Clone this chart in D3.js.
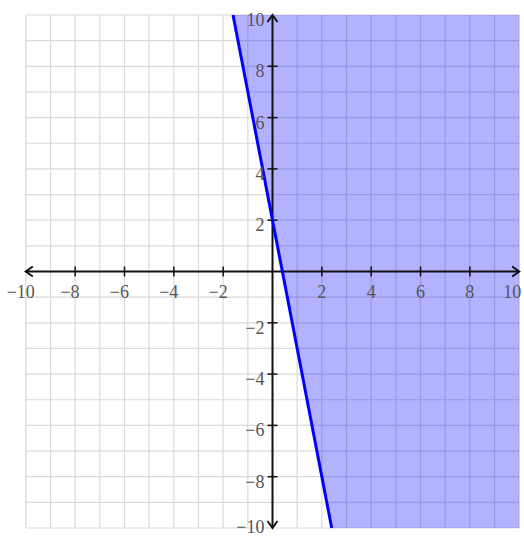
<!DOCTYPE html>
<html>
<head>
<meta charset="utf-8">
<title>inequality graph</title>
<script src="https://d3js.org/d3.v7.min.js"></script>
<style>
  body { margin: 0; background: #fff; }
  text { font-family: "Liberation Serif", "DejaVu Serif", serif; fill: #555; }
</style>
</head>
<body>
<script>
// axis range and grid
var xDomain = [-10, 10];
var yDomain = [-10, 10];
var gridValues = d3.range(-10, 11, 1);
var xTickLabels = [-10, -8, -6, -4, -2, 2, 4, 6, 8, 10];
var yTickLabels = [-10, -8, -6, -4, -2, 2, 4, 6, 8, 10];

// boundary line y = -5x + 2, read where it leaves the window
var boundary = [[-1.6, 10], [2.4, -10]];
// shaded half plane (right of the line)
var region = [[-1.6, 10], [10, 10], [10, -10], [2.4, -10]];

var width = 524, height = 538;

var svg = d3.select("body").append("svg")
    .attr("width", width)
    .attr("height", height);

var x = d3.scaleLinear().domain(xDomain).range([25.8, 519.2]);
var y = d3.scaleLinear().domain(yDomain).range([528, 15]);

// grid
var grid = svg.append("g").attr("stroke", "#dadada").attr("stroke-width", 1.2);
grid.selectAll(".gx").data(gridValues).enter().append("line")
    .attr("x1", function(d){ return x(d); })
    .attr("x2", function(d){ return x(d); })
    .attr("y1", y(10)).attr("y2", y(-10));
grid.selectAll(".gy").data(gridValues).enter().append("line")
    .attr("y1", function(d){ return y(d); })
    .attr("y2", function(d){ return y(d); })
    .attr("x1", x(-10)).attr("x2", x(10));

// shaded region
var area = d3.line().x(function(d){ return x(d[0]); }).y(function(d){ return y(d[1]); });
svg.append("path")
    .attr("d", area(region) + "Z")
    .attr("fill", "rgb(0,0,255)")
    .attr("fill-opacity", 0.3);

// axes
var axes = svg.append("g").attr("stroke", "#111").attr("stroke-width", 2).attr("fill", "none");
axes.append("line").attr("x1", x(-10)).attr("x2", x(10)).attr("y1", y(0)).attr("y2", y(0));
axes.append("line").attr("x1", x(0)).attr("x2", x(0)).attr("y1", y(10)).attr("y2", y(-10));

// arrow heads
var ah = 7, aw = 5;
axes.append("path").attr("d", "M" + (x(-10) + ah) + "," + (y(0) - aw) + "L" + x(-10) + "," + y(0) + "L" + (x(-10) + ah) + "," + (y(0) + aw));
axes.append("path").attr("d", "M" + (x(10) - ah) + "," + (y(0) - aw) + "L" + x(10) + "," + y(0) + "L" + (x(10) - ah) + "," + (y(0) + aw));
axes.append("path").attr("d", "M" + (x(0) - aw) + "," + (y(10) + ah) + "L" + x(0) + "," + y(10) + "L" + (x(0) + aw) + "," + (y(10) + ah));
axes.append("path").attr("d", "M" + (x(0) - aw) + "," + (y(-10) - ah) + "L" + x(0) + "," + y(-10) + "L" + (x(0) + aw) + "," + (y(-10) - ah));

// tick marks
axes.selectAll(".tx").data(xTickLabels.filter(function(d){ return Math.abs(d) < 10; })).enter().append("line")
    .attr("stroke-width", 1.5)
    .attr("x1", function(d){ return x(d); }).attr("x2", function(d){ return x(d); })
    .attr("y1", y(0) - 5).attr("y2", y(0) + 5);
axes.selectAll(".ty").data(yTickLabels.filter(function(d){ return Math.abs(d) < 10; })).enter().append("line")
    .attr("stroke-width", 1.5)
    .attr("y1", function(d){ return y(d); }).attr("y2", function(d){ return y(d); })
    .attr("x1", x(0) - 5).attr("x2", x(0) + 5);

// boundary line
svg.append("path")
    .attr("d", area(boundary))
    .attr("stroke", "#0000ff")
    .attr("stroke-width", 3)
    .attr("fill", "none");

function fmt(d) { return d < 0 ? "\u2212" + Math.abs(d) : "" + d; }

var fs = 18, digitW = 9;

// x labels: digits centred on the tick, minus hanging left
svg.selectAll(".lx").data(xTickLabels).enter().append("text")
    .attr("font-size", fs)
    .attr("text-anchor", "end")
    .attr("y", y(0) + 26)
    .attr("x", function(d){
        var w = String(Math.abs(d)).length * digitW;
        if (d === 10) return x(d) + 2;
        return x(d) + w / 2;
    })
    .text(fmt);

// y labels
svg.selectAll(".ly").data(yTickLabels).enter().append("text")
    .attr("font-size", fs)
    .attr("text-anchor", "end")
    .attr("x", x(0) - 8)
    .attr("y", function(d){ return d === -10 ? height - 5 : y(d) + 11; })
    .text(fmt);
</script>
</body>
</html>
